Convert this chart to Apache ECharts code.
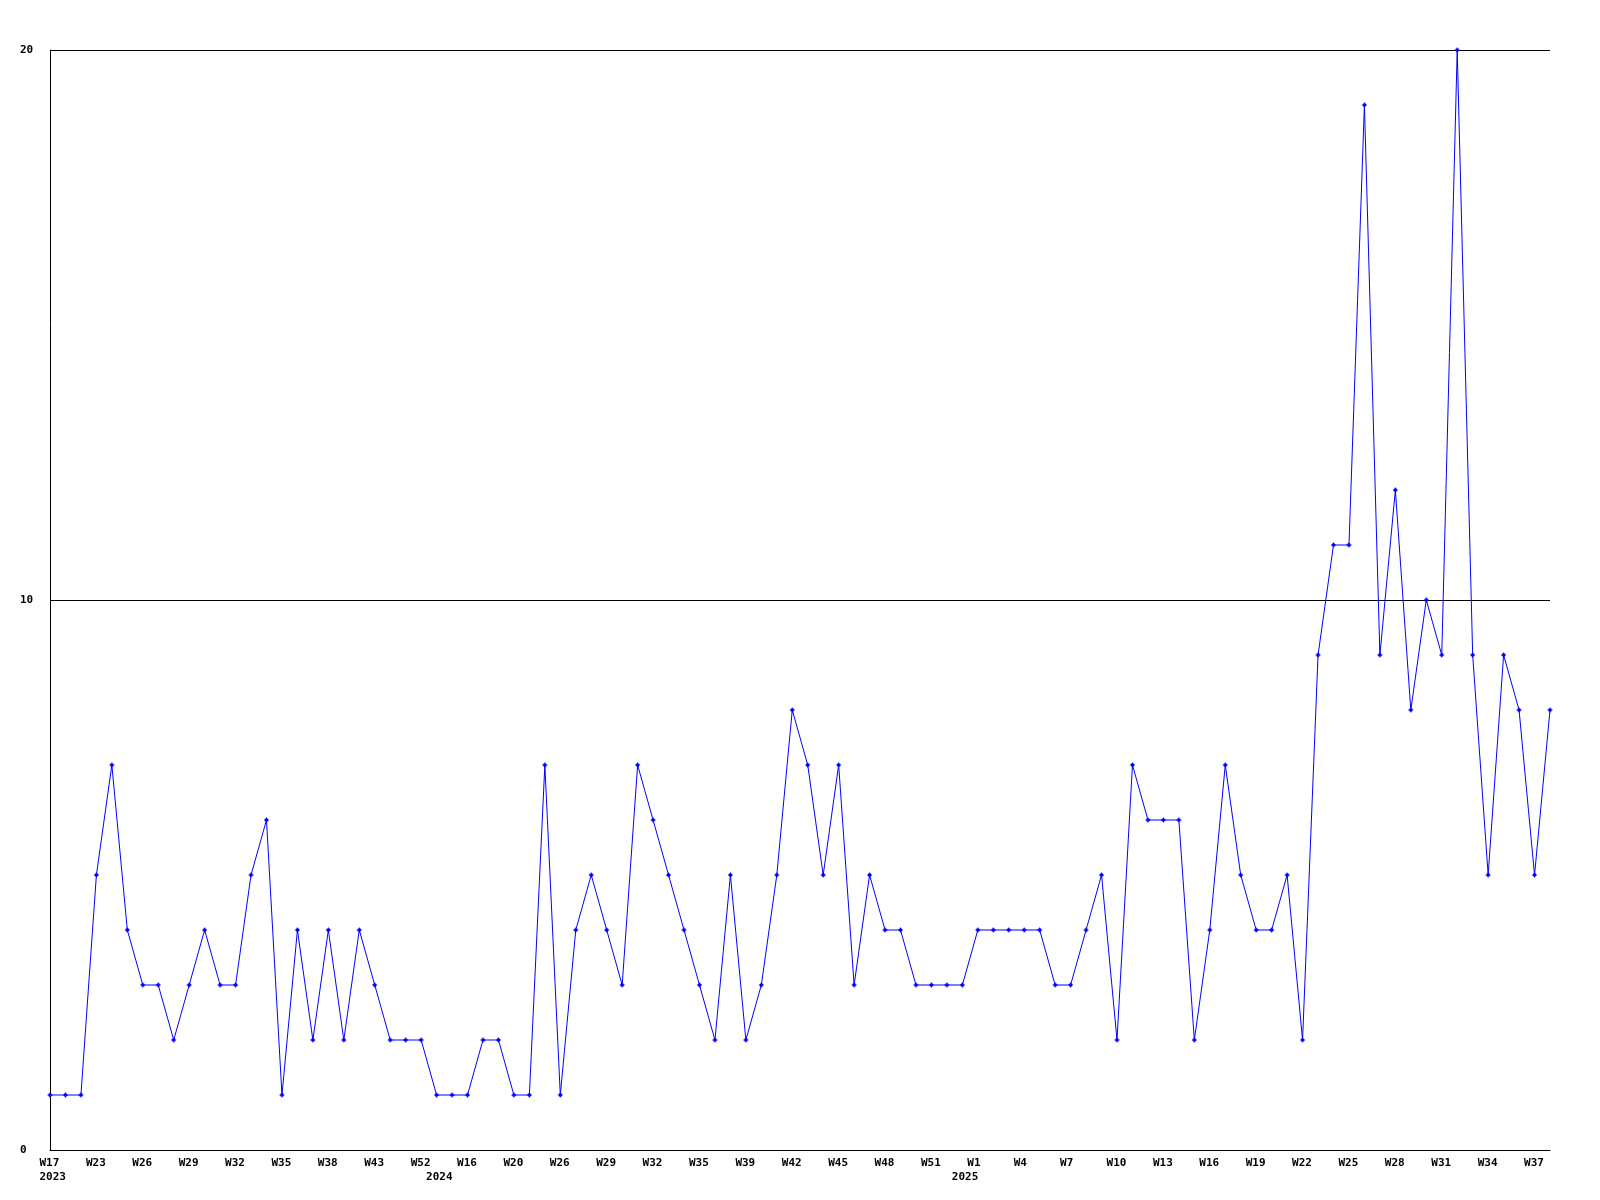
<!DOCTYPE html>
<html>
<head>
<meta charset="utf-8">
<script src="https://cdn.jsdelivr.net/npm/echarts@6/dist/echarts.min.js"></script>
<style>html,body{margin:0;padding:0;background:#fff}#c{width:1600px;height:1200px}</style>
</head>
<body>
<div id="c"></div>
<script>
// Week categories (every third one is labelled on the axis; the others are estimated)
const weeks = [
  'W17','W18','W20','W23','W24','W25','W26','W27','W28','W29','W30','W31','W32','W33','W34','W35','W36','W37','W38','W40','W41','W43','W46','W49','W52',
  'W2','W9','W16','W17','W18','W20','W22','W24','W26','W27','W28','W29','W30','W31','W32','W33','W34','W35','W36','W38','W39','W40','W41','W42','W43','W44','W45','W46','W47','W48','W49','W50','W51','W52',
  'W53','W1','W2','W3','W4','W5','W6','W7','W8','W9','W10','W11','W12','W13','W14','W15','W16','W17','W18','W19','W20','W21','W22','W23','W24','W25','W26','W27','W28','W29','W30','W31','W32','W33','W34','W35','W36','W37','W38'
];
// Year labels shown under the week row, keyed by category index
const yearLabels = { 0: '2023', 25: '2024', 59: '2025' };
// Series values
const counts = [
  1,1,1,5,7,4,3,3,2,3,4,3,3,5,6,1,4,2,4,2,4,3,2,2,2,1,1,1,2,2,1,1,7,1,4,5,4,3,7,6,
  5,4,3,2,5,2,3,5,8,7,5,7,3,5,4,4,3,3,3,3,4,4,4,4,4,3,3,4,5,2,7,6,6,6,2,4,7,5,4,4,
  5,2,9,11,11,19,9,12,8,10,9,20,9,5,9,8,5,8
];
const yTicks = [0, 10, 20];
const labelStep = 3;

const chart = echarts.init(document.getElementById('c'), null, { renderer: 'canvas' });
const font = 'DejaVu Sans Mono';
chart.setOption({
  animation: false,
  backgroundColor: '#ffffff',
  grid: [
    { left: 50, right: 50, top: 50, bottom: 50 },
    { left: 39.5, right: 60.5, top: 50, bottom: 50 }
  ],
  xAxis: [
    {
      type: 'category', gridIndex: 0, data: weeks, boundaryGap: false,
      axisLine: { show: true, lineStyle: { color: '#000', width: 1 } },
      axisTick: { show: false },
      axisLabel: { show: false },
      splitLine: { show: false }
    },
    {
      type: 'category', gridIndex: 1, data: weeks, boundaryGap: false,
      axisLine: { show: false }, axisTick: { show: false }, splitLine: { show: false },
      axisLabel: {
        show: true,
        interval: (i) => i % labelStep === 0 || yearLabels[i] !== undefined,
        align: 'left',
        margin: 6,
        lineHeight: 14,
        fontFamily: font, fontSize: 11, fontWeight: 'bold', color: '#000',
        formatter: (v, i) => {
          const w = i % labelStep === 0 ? v : '';
          const y = yearLabels[i];
          return y !== undefined ? w + '\n' + y : w;
        }
      }
    }
  ],
  yAxis: [
    {
      type: 'value', gridIndex: 0, min: yTicks[0], max: yTicks[yTicks.length - 1], interval: 10,
      axisLine: { show: true, lineStyle: { color: '#000', width: 1 } },
      axisTick: { show: false },
      axisLabel: { align: 'left', margin: 30, fontFamily: font, fontSize: 11, fontWeight: 'bold', color: '#000' },
      splitLine: { show: true, lineStyle: { color: '#000', width: 1, type: 'solid' } }
    },
    { type: 'value', gridIndex: 1, show: false, min: 0, max: 20 }
  ],
  series: [{
    type: 'line', xAxisIndex: 0, yAxisIndex: 0, data: counts,
    lineStyle: { color: '#0000ff', width: 1 },
    itemStyle: { color: '#0000ff' },
    symbol: 'path://M2,0H3V1H4V2H5V3H4V4H3V5H2V4H1V3H0V2H1V1H2Z',
    symbolSize: 5,
    showSymbol: true,
    showAllSymbol: true,
    silent: true
  }]
});
</script>
</body>
</html>
